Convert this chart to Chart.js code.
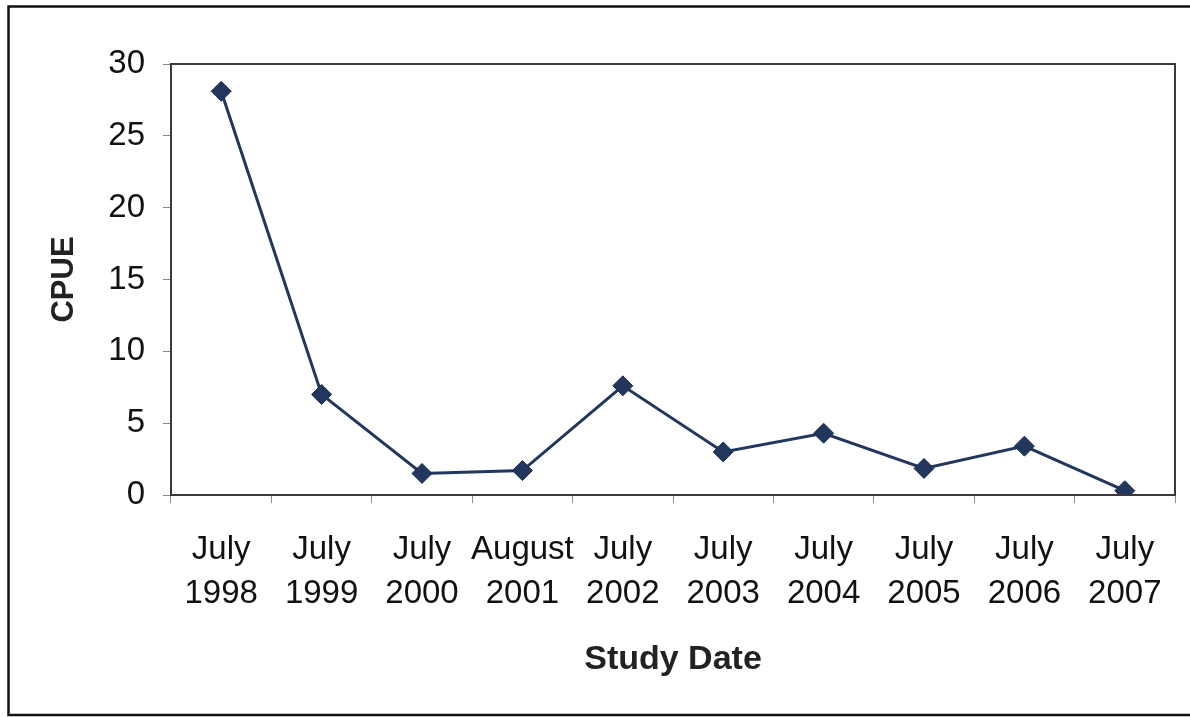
<!DOCTYPE html>
<html>
<head>
<meta charset="utf-8">
<script src="https://cdn.jsdelivr.net/npm/chart.js@4"></script>
<style>
  html, body { margin: 0; padding: 0; background: #fff; }
  #wrap { width: 1190px; height: 717px; }
</style>
</head>
<body>
<div id="wrap"><canvas id="cpue"></canvas></div>
<script>
const studyDates = [
  ['July', '1998'], ['July', '1999'], ['July', '2000'], ['August', '2001'], ['July', '2002'],
  ['July', '2003'], ['July', '2004'], ['July', '2005'], ['July', '2006'], ['July', '2007']
];
const cpue = [28.1, 7.0, 1.5, 1.7, 7.6, 3.0, 4.3, 1.85, 3.4, 0.3];
const yTicks = [0, 5, 10, 15, 20, 25, 30];

const lineColor = '#22375e';

// box round the plot area plus the page frame
const frames = {
  id: 'frames',
  afterDraw(chart) {
    const { ctx, chartArea: a } = chart;
    ctx.save();
    ctx.strokeStyle = '#3a3a3a';
    ctx.lineWidth = 2;
    ctx.strokeRect(a.left, a.top, a.right - a.left, a.bottom - a.top);
    ctx.strokeStyle = '#111';
    ctx.lineWidth = 2.5;
    ctx.beginPath();
    ctx.moveTo(1195, 6.5);
    ctx.lineTo(8.5, 6.5);
    ctx.lineTo(8.5, 715);
    ctx.lineTo(1195, 715);
    ctx.stroke();
    ctx.restore();
  }
};

new Chart(document.getElementById('cpue'), {
  type: 'line',
  data: {
    labels: studyDates,
    datasets: [{
      data: cpue,
      borderColor: lineColor,
      borderWidth: 3,
      backgroundColor: lineColor,
      pointStyle: 'rectRot',
      pointRadius: 10,
      pointBorderColor: '#1a2c4e',
      pointBorderWidth: 1,
      tension: 0
    }]
  },
  options: {
    responsive: true,
    maintainAspectRatio: false,
    animation: false,
    layout: { padding: { left: 0, top: 64, right: 15, bottom: 0 } },
    plugins: { legend: { display: false }, tooltip: { enabled: false } },
    scales: {
      x: {
        offset: true,
        grid: { offset: true, drawOnChartArea: false, drawTicks: true, tickLength: 8, color: '#888', lineWidth: 1 },
        border: { display: false },
        ticks: {
          color: '#111',
          font: { family: 'Liberation Sans', size: 33, lineHeight: 1.33 },
          padding: 25,
          maxRotation: 0,
          autoSkip: false
        },
        title: {
          display: true,
          text: 'Study Date',
          color: '#222',
          font: { family: 'Liberation Sans', size: 34, weight: 'bold', lineHeight: 1.2 },
          padding: { top: 0, bottom: 37 }
        },
        afterFit(scale) { scale.height = 222; }
      },
      y: {
        min: 0,
        max: 30,
        afterBuildTicks(scale) { scale.ticks = yTicks.map(v => ({ value: v })); },
        grid: { drawOnChartArea: false, drawTicks: true, tickLength: 8, color: '#888', lineWidth: 1 },
        border: { display: false },
        ticks: {
          color: '#111',
          font: { family: 'Liberation Sans', size: 33 },
          padding: 18
        },
        title: {
          display: true,
          text: 'CPUE',
          color: '#222',
          font: { family: 'Liberation Sans', size: 31, weight: 'bold', lineHeight: 1.2 },
          padding: { top: 46, bottom: 0 }
        },
        afterFit(scale) { scale.width = 171; }
      }
    }
  },
  plugins: [frames]
});
</script>
</body>
</html>
